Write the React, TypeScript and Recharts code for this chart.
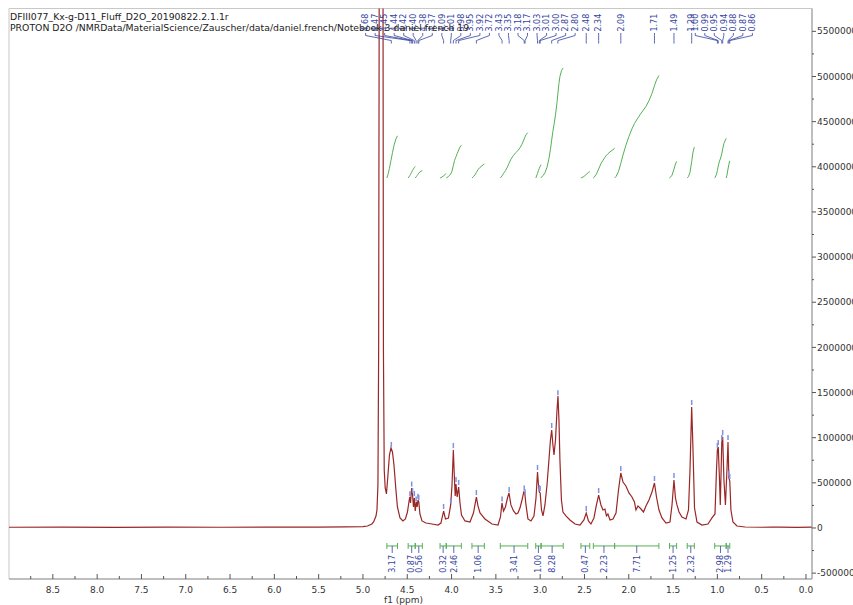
import React from 'react'
import { ComposedChart, Line, Scatter, XAxis, YAxis, ReferenceLine, ReferenceArea } from 'recharts'

const TITLE = 'DFIII077_Kx-g-D11_Fluff_D2O_20190822.2.1.1r'
const SUBTITLE = 'PROTON D2O /NMRData/MaterialScience/Zauscher/data/daniel.french/Notebook 3 daniel french 19'

const spectrum: [number, number][] = [
  [9.0, 8000], [8.4, 10000], [7.8, 7000], [7.2, 9000], [6.6, 8000], [6.0, 10000], [5.5, 9000], [5.2, 12000],
  [5.0, 15000], [4.95, 22000], [4.9, 44000], [4.88, 66000], [4.853, 133000], [4.842, 199000], [4.831, 476000],
  [4.823, 1971000], [4.815, 7000000], [4.775, 7000000], [4.769, 1971000], [4.76, 642000], [4.749, 443000],
  [4.735, 377000], [4.718, 587000], [4.701, 808000], [4.684, 886000], [4.667, 842000], [4.65, 698000],
  [4.628, 421000], [4.611, 233000], [4.582, 111000], [4.549, 78000], [4.521, 100000], [4.498, 177000],
  [4.483, 277000], [4.472, 343000], [4.463, 277000], [4.451, 443000], [4.441, 377000], [4.43, 233000],
  [4.42, 332000], [4.41, 188000], [4.398, 288000], [4.388, 233000], [4.379, 310000], [4.37, 288000],
  [4.357, 155000], [4.334, 78000], [4.289, 55000], [4.221, 44000], [4.153, 33000], [4.12, 55000],
  [4.09, 188000], [4.069, 100000], [4.035, 111000], [4.01, 255000], [3.995, 476000], [3.98, 864000],
  [3.967, 532000], [3.959, 354000], [3.95, 487000], [3.937, 343000], [3.92, 454000], [3.905, 277000],
  [3.888, 144000], [3.849, 78000], [3.792, 66000], [3.753, 166000], [3.73, 288000], [3.72, 343000],
  [3.702, 244000], [3.679, 166000], [3.623, 100000], [3.544, 44000], [3.476, 33000], [3.448, 122000],
  [3.431, 277000], [3.414, 188000], [3.392, 233000], [3.369, 332000], [3.352, 388000], [3.33, 255000],
  [3.301, 188000], [3.273, 155000], [3.251, 166000], [3.228, 221000], [3.205, 310000], [3.185, 399000],
  [3.174, 388000], [3.16, 255000], [3.138, 100000], [3.104, 78000], [3.07, 133000], [3.047, 332000],
  [3.03, 620000], [3.019, 476000], [3.01, 399000], [3.0, 388000], [2.985, 199000], [2.968, 133000],
  [2.946, 255000], [2.923, 476000], [2.901, 753000], [2.884, 975000], [2.87, 1085000], [2.856, 919000],
  [2.844, 808000], [2.827, 975000], [2.81, 1307000], [2.799, 1462000], [2.788, 1196000], [2.777, 753000],
  [2.76, 310000], [2.743, 177000], [2.709, 133000], [2.664, 89000], [2.607, 44000], [2.551, 33000],
  [2.506, 89000], [2.48, 166000], [2.455, 78000], [2.427, 44000], [2.393, 111000], [2.365, 255000],
  [2.34, 365000], [2.314, 255000], [2.291, 199000], [2.269, 210000], [2.252, 133000], [2.235, 155000],
  [2.212, 89000], [2.178, 100000], [2.144, 166000], [2.116, 421000], [2.09, 609000], [2.065, 509000],
  [2.032, 465000], [1.998, 388000], [1.964, 343000], [1.936, 288000], [1.919, 199000], [1.896, 244000],
  [1.862, 210000], [1.834, 177000], [1.806, 244000], [1.772, 310000], [1.738, 399000], [1.71, 498000],
  [1.687, 343000], [1.659, 199000], [1.625, 111000], [1.58, 55000], [1.535, 66000], [1.512, 255000],
  [1.49, 532000], [1.473, 332000], [1.456, 255000], [1.433, 177000], [1.4, 122000], [1.354, 100000],
  [1.326, 199000], [1.309, 642000], [1.29, 1340000], [1.275, 864000], [1.258, 221000], [1.23, 66000],
  [1.174, 33000], [1.106, 44000], [1.061, 111000], [1.027, 155000], [1.01, 642000], [1.0, 864000],
  [0.99, 897000], [0.976, 532000], [0.967, 255000], [0.95, 952000], [0.94, 1008000], [0.926, 532000],
  [0.909, 255000], [0.892, 642000], [0.88, 952000], [0.87, 554000], [0.86, 520000], [0.847, 199000],
  [0.824, 66000], [0.779, 22000], [0.688, 11000], [0.5, 8000], [0.3, 10000], [0.1, 7000], [-0.07, 9000],
]

// picked peaks, grouped the way their labels are fanned out at the top
const peakGroups: number[][] = [
  [4.68, 4.47, 4.45, 4.44, 4.42, 4.40, 4.38, 4.37, 4.09, 4.01, 3.98, 3.95, 3.92, 3.72, 3.43, 3.35, 3.18, 3.17, 3.03, 3.01, 3.00, 2.87, 2.80],
  [2.48], [2.34], [2.09], [1.71], [1.49], [1.29],
  [1.00, 0.99, 0.95, 0.94, 0.88, 0.87, 0.86],
]

// integration regions [from ppm, to ppm, value]
const integrals: [number, number, number][] = [
  [4.73, 4.61, 3.17], [4.49, 4.41, 0.87], [4.41, 4.33, 0.56], [4.13, 4.06, 0.32], [4.06, 3.89, 2.46],
  [3.77, 3.63, 1.06], [3.45, 3.14, 3.41], [3.05, 2.99, 1.0], [2.99, 2.74, 8.28], [2.54, 2.44, 0.47],
  [2.40, 2.16, 2.23], [2.16, 1.66, 7.71], [1.54, 1.46, 1.25], [1.34, 1.26, 2.32], [1.03, 0.90, 2.98],
  [0.90, 0.86, 1.29],
]

const xTicks = Array.from({ length: 36 }, (_, i) => i * 0.25)
const yTicks = Array.from({ length: 25 }, (_, i) => -500000 + i * 250000)

const X_MIN = -0.068
const X_MAX = 8.995
const Y_MIN = -565000
const Y_MAX = 5753000

const RED = '#9a2626'
const GREEN = '#55b055'
const BLUE = '#3342a0'
const FONT = 'DejaVu Sans'

// vertical placement of annotation pieces, in intensity units
const LABEL_BOTTOM = 5498000
const CONN = [5482000, 5454000, 5398000, 5365000]
const INT_BASE = 3876000
const INT_UNIT = 147300
const BRACKET_Y = -199000
const BRACKET_TICK = 33000
const INT_LINK_END = -277000
const INT_LABEL_TOP = -299000
const LABEL_STEP = 0.1075

const interp = (p: number) => {
  for (let i = 0; i < spectrum.length - 1; i++) {
    const [p0, v0] = spectrum[i]
    const [p1, v1] = spectrum[i + 1]
    if (p <= p0 && p >= p1) return v0 + ((v1 - v0) * (p0 - p)) / (p0 - p1)
  }
  return 0
}

const spectrumData = spectrum.map(([x, y]) => ({ x, y }))

const peakLabels = peakGroups.flatMap((g) => {
  const c = g.reduce((s, v) => s + v, 0) / g.length
  return g.map((p, i) => ({ p, lx: c + ((g.length - 1) / 2 - i) * LABEL_STEP }))
})

const labelData = peakLabels.map((l) => ({ x: l.lx, y: LABEL_BOTTOM, label: l.p.toFixed(2) }))
const markerData = peakLabels.map((l) => ({ x: l.p, y: interp(l.p) }))

// running integral of the trace over each region, scaled to its value
const integralCurve = (a: number, b: number, value: number) => {
  const pts: [number, number][] = [[a, interp(a)], ...spectrum.filter(([p]) => p < a && p > b), [b, interp(b)]]
  const cum = [0]
  let s = 0
  for (let i = 1; i < pts.length; i++) {
    s += ((pts[i - 1][0] - pts[i][0]) * (pts[i - 1][1] + pts[i][1])) / 2
    cum.push(s)
  }
  return pts.map((pt, i) => ({ x: pt[0], y: INT_BASE + (cum[i] / s) * value * INT_UNIT }))
}

const intLabelData = integrals.map(([a, b, v]) => ({ x: (a + b) / 2, y: INT_LABEL_TOP, label: v.toFixed(2) }))

const XTick = (props: any) => {
  const { x, y, payload } = props
  const v = payload.value as number
  const major = Math.abs(v * 2 - Math.round(v * 2)) < 1e-6
  return (
    <g>
      <line x1={x} x2={x} y1={y} y2={y - (major ? 5 : 3)} stroke="#555" />
      {major && (
        <text x={x} y={y + 14} textAnchor="middle" fontSize={9} fill="#333" fontFamily={FONT}>
          {v.toFixed(1)}
        </text>
      )}
    </g>
  )
}

const YTick = (props: any) => {
  const { x, y, payload } = props
  const v = payload.value as number
  const major = v % 500000 === 0
  return (
    <g>
      <line x1={x} x2={x + (major ? 4 : 2)} y1={y} y2={y} stroke="#555" />
      {major && (
        <text x={x + 5} y={y} dy="0.35em" fontSize={9} fill="#333" fontFamily={FONT}>
          {v}
        </text>
      )}
    </g>
  )
}

const PeakLabel = (props: any) => {
  const { cx, cy, payload } = props
  return (
    <text x={cx} y={cy} dy="0.35em" transform={`rotate(-90 ${cx} ${cy})`} fontSize={8} fill={BLUE} fontFamily={FONT}>
      {payload.label}
    </text>
  )
}

const IntLabel = (props: any) => {
  const { cx, cy, payload } = props
  return (
    <text x={cx} y={cy} dy="0.35em" textAnchor="end" transform={`rotate(-90 ${cx} ${cy})`} fontSize={8} fill={BLUE} fontFamily={FONT}>
      {payload.label}
    </text>
  )
}

const PeakMarker = (props: any) => {
  const { cx, cy } = props
  return <rect x={cx - 0.75} y={cy - 7} width={1.5} height={5} fill="#8193e0" />
}

export default function App() {
  return (
    <div style={{ position: 'fixed', left: 8, top: 8, width: 845, height: 597, overflow: 'hidden', background: '#fff' }}>
      <ComposedChart width={880} height={597} margin={{ top: 0.5, right: 0, bottom: 0, left: 1 }}>
        <XAxis
          type="number"
          dataKey="x"
          domain={[X_MIN, X_MAX]}
          reversed
          allowDataOverflow
          ticks={xTicks}
          interval={0}
          tickSize={0}
          tickMargin={0}
          tickLine={false}
          tick={<XTick />}
          height={26}
          axisLine={{ stroke: '#999' }}
          label={{ value: 'f1 (ppm)', position: 'insideBottom', offset: 2, dx: -7, fontSize: 9, fill: '#333', fontFamily: FONT }}
        />
        <YAxis
          type="number"
          dataKey="y"
          orientation="right"
          domain={[Y_MIN, Y_MAX]}
          allowDataOverflow
          ticks={yTicks}
          interval={0}
          tickSize={0}
          tickMargin={0}
          tickLine={false}
          tick={<YTick />}
          width={76}
          axisLine={{ stroke: '#999' }}
        />
        <ReferenceArea x1={X_MAX} x2={X_MIN} y1={Y_MIN} y2={Y_MAX} fill="none" stroke="#c8c8c8" />

        {integrals.map(([a, b, v], i) => (
          <Line
            key={'int' + i}
            data={integralCurve(a, b, v)}
            dataKey="y"
            type="linear"
            stroke={GREEN}
            strokeWidth={1}
            dot={false}
            isAnimationActive={false}
          />
        ))}

        <Line data={spectrumData} dataKey="y" type="linear" stroke={RED} strokeWidth={1.2} dot={false} isAnimationActive={false} />

        {peakLabels.map((l, i) => (
          <Line
            key={'conn' + i}
            data={[
              { x: l.lx, y: CONN[0] },
              { x: l.lx, y: CONN[1] },
              { x: l.p, y: CONN[2] },
              { x: l.p, y: CONN[3] },
            ]}
            dataKey="y"
            type="linear"
            stroke={BLUE}
            strokeWidth={0.8}
            dot={false}
            isAnimationActive={false}
          />
        ))}

        {integrals.map(([a, b], i) => (
          <React.Fragment key={'br' + i}>
            <ReferenceLine segment={[{ x: a, y: BRACKET_Y }, { x: b, y: BRACKET_Y }]} stroke={GREEN} />
            <ReferenceLine segment={[{ x: a, y: BRACKET_Y - BRACKET_TICK }, { x: a, y: BRACKET_Y + BRACKET_TICK }]} stroke={GREEN} />
            <ReferenceLine segment={[{ x: b, y: BRACKET_Y - BRACKET_TICK }, { x: b, y: BRACKET_Y + BRACKET_TICK }]} stroke={GREEN} />
            <ReferenceLine segment={[{ x: (a + b) / 2, y: BRACKET_Y }, { x: (a + b) / 2, y: INT_LINK_END }]} stroke={BLUE} strokeWidth={0.8} />
          </React.Fragment>
        ))}

        <Scatter data={markerData} shape={<PeakMarker />} isAnimationActive={false} />
        <Scatter data={labelData} shape={<PeakLabel />} isAnimationActive={false} />
        <Scatter data={intLabelData} shape={<IntLabel />} isAnimationActive={false} />
      </ComposedChart>
      <svg width={845} height={40} style={{ position: 'absolute', left: 0, top: 0, pointerEvents: 'none' }}>
        <text x={2} y={12} fontSize={9.3} fill="#222" fontFamily={FONT}>{TITLE}</text>
        <text x={2} y={22.5} fontSize={9.3} fill="#222" fontFamily={FONT}>{SUBTITLE}</text>
      </svg>
    </div>
  )
}
